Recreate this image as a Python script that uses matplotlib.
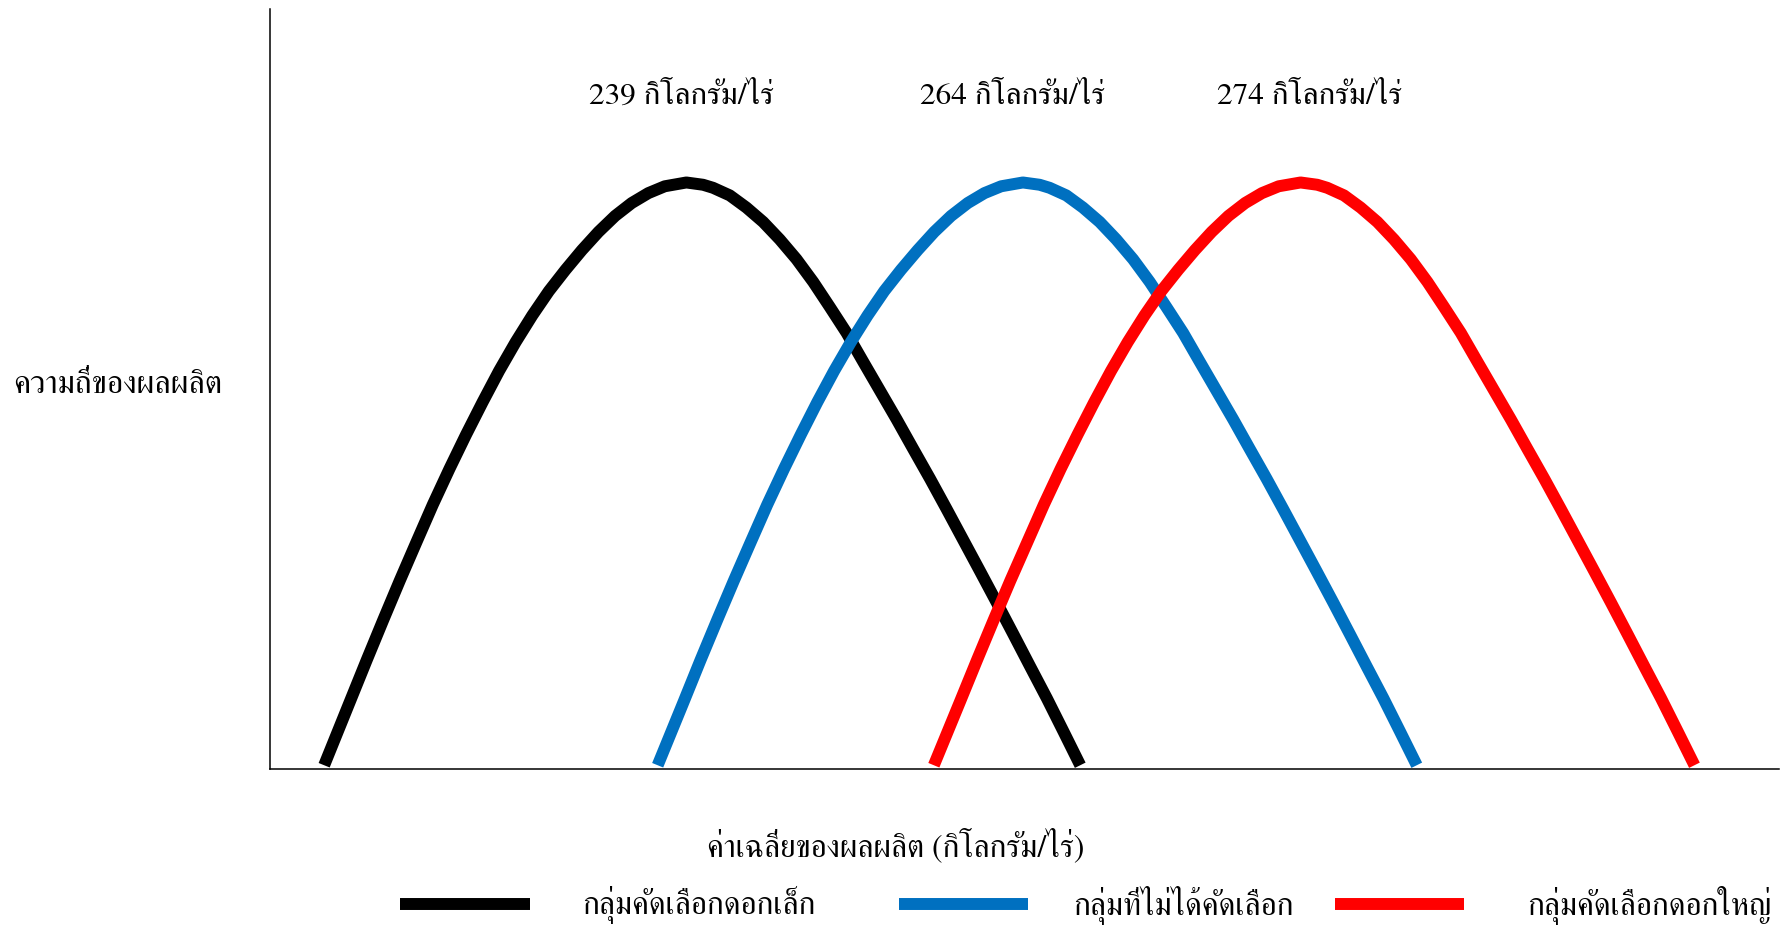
import matplotlib
matplotlib.use("Agg")
import matplotlib.pyplot as plt
from matplotlib.lines import Line2D

plt.rcParams['font.family'] = ['FreeSerif', 'DejaVu Serif']

# curves (x: position along the axis, y: relative frequency)
small_x = [3.60, 5.31, 6.41, 7.51, 8.61, 9.70, 10.80, 11.90, 13.00, 14.10, 15.19,
           16.29, 17.39, 18.49, 19.59, 20.68, 21.78, 22.88, 23.98, 25.08, 26.17, 27.60,
           28.71, 29.37, 30.48, 31.58, 32.69, 33.79, 34.90, 36.01, 37.11, 38.22, 39.32,
           40.43, 41.54, 42.64, 43.75, 44.85, 45.96, 47.07, 48.17, 49.28, 50.38, 51.49,
           52.60, 53.70]
unsel_x = [25.70, 27.43, 28.53, 29.64, 30.75, 31.85, 32.96, 34.07, 35.18, 36.28, 37.39,
           38.50, 39.61, 40.71, 41.82, 42.93, 44.03, 45.14, 46.25, 47.35, 48.46, 49.90,
           51.01, 51.67, 52.78, 53.88, 54.99, 56.09, 57.20, 58.31, 59.41, 60.52, 61.62,
           62.73, 63.84, 64.94, 66.05, 67.15, 68.26, 69.37, 70.47, 71.58, 72.68, 73.79,
           74.90, 76.00]
large_x = [44.00, 45.74, 46.85, 47.96, 49.07, 50.18, 51.29, 52.40, 53.52, 54.63, 55.74,
           56.85, 57.96, 59.07, 60.19, 61.30, 62.41, 63.52, 64.63, 65.74, 66.85, 68.30,
           69.41, 70.07, 71.18, 72.28, 73.39, 74.49, 75.60, 76.71, 77.81, 78.92, 80.02,
           81.13, 82.24, 83.34, 84.45, 85.55, 86.66, 87.77, 88.87, 89.98, 91.08, 92.19,
           93.30, 94.40]
curve_y = [0.5, 8.9, 14.3, 19.6, 24.8, 29.8, 34.8, 39.5, 44.0, 48.3, 52.4,
           56.2, 59.7, 62.9, 65.7, 68.3, 70.7, 72.8, 74.5, 75.8, 76.7, 77.2,
           76.9, 76.5, 75.5, 73.9, 72.0, 69.7, 67.1, 64.1, 60.8, 57.4, 53.6,
           49.8, 46.0, 42.1, 38.2, 34.2, 30.1, 26.0, 21.9, 17.7, 13.5, 9.3,
           4.9, 0.5]

group_names = ['กลุ่มคัดเลือกดอกเล็ก', 'กลุ่มที่ไม่ได้คัดเลือก', 'กลุ่มคัดเลือกดอกใหญ่']
group_colors = ['#000000', '#0070C0', '#FF0000']
mean_yield = [239, 264, 274]
label_x = [27.3, 49.2, 68.9]

fig = plt.figure(figsize=(17.87, 9.25), dpi=100)
ax = fig.add_axes([0.151, 0.1686, 0.8445, 0.8214])

for xs, c in zip([small_x, unsel_x, large_x], group_colors):
    ax.plot(xs, curve_y, color=c, linewidth=8.6, solid_capstyle='butt',
            solid_joinstyle='round')

for lx, v in zip(label_x, mean_yield):
    ax.text(lx, 88.5, f'{v} กิโลกรัม/ไร่', ha='center', va='center', fontsize=22.5)

ax.set_xlim(0, 100)
ax.set_ylim(0, 100)
ax.set_xticks([])
ax.set_yticks([])
for s in ['top', 'right']:
    ax.spines[s].set_visible(False)
for s in ['left', 'bottom']:
    ax.spines[s].set_linewidth(1.1)
    ax.spines[s].set_color('black')

fig.text(0.0657, 0.584, 'ความถี่ของผลผลิต', ha='center', va='center', fontsize=23)
fig.text(0.5015, 0.0854, 'ค่าเฉลี่ยของผลผลิต (กิโลกรัม/ไร่)', ha='center', va='center', fontsize=22.7)

# legend row at the bottom
key_x = [(400, 530), (899, 1028), (1335, 1464)]
text_x = [582, 1073, 1527]
W, H = 1787.0, 925.0
ky = 1 - 903.5 / H
for (x0, x1), tx, c, name in zip(key_x, text_x, group_colors, group_names):
    fig.add_artist(Line2D([x0 / W, x1 / W], [ky, ky], color=c, linewidth=8.6,
                          solid_capstyle='butt', transform=fig.transFigure))
    fig.text(tx / W, ky - 0.002, name, ha='left', va='center', fontsize=22.7)

fig.savefig('out.png', dpi=100)
